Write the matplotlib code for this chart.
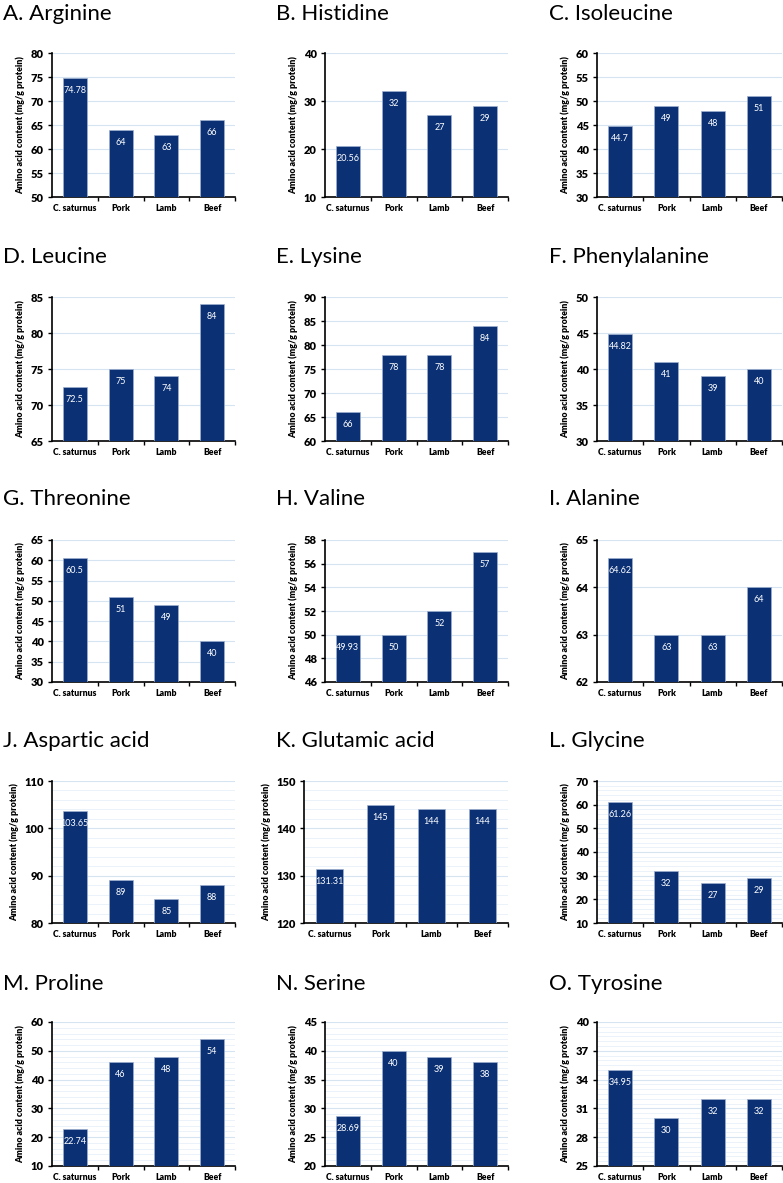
import numpy as np
import matplotlib.pyplot as plt

categories = ["C. saturnus", "Pork", "Lamb", "Beef"]

arginine = [74.78, 64, 63, 66]
histidine = [20.56, 32, 27, 29]
isoleucine = [44.7, 49, 48, 51]
leucine = [72.5, 75, 74, 84]
lysine = [66, 78, 78, 84]
phenylalanine = [44.82, 41, 39, 40]
threonine = [60.5, 51, 49, 40]
valine = [49.93, 50, 52, 57]
alanine = [64.62, 63, 63, 64]
aspartic = [103.65, 89, 85, 88]
glutamic = [131.31, 145, 144, 144]
glycine = [61.26, 32, 27, 29]
proline = [22.74, 46, 48, 54]
serine = [28.69, 40, 39, 38]
tyrosine = [34.95, 30, 32, 32]

titles = ["A. Arginine", "B. Histidine", "C. Isoleucine",
          "D. Leucine", "E. Lysine", "F. Phenylalanine",
          "G. Threonine", "H. Valine", "I. Alanine",
          "J. Aspartic acid", "K. Glutamic acid", "L. Glycine",
          "M. Proline", "N. Serine", "O. Tyrosine"]
series = [arginine, histidine, isoleucine, leucine, lysine, phenylalanine,
          threonine, valine, alanine, aspartic, glutamic, glycine,
          proline, serine, tyrosine]
# (ymin, ymax, major step)
y_axes = [(50, 80, 5), (10, 40, 10), (30, 60, 5),
          (65, 85, 5), (60, 90, 5), (30, 50, 5),
          (30, 65, 5), (46, 58, 2), (62, 65, 1),
          (80, 110, 10), (120, 150, 10), (10, 70, 10),
          (10, 60, 10), (20, 45, 5), (25, 40, 3)]
minor_steps = [None] * 9 + [2, 2, 2, 2, 1, 0.5]

plt.rcParams['font.family'] = ['Lato', 'DejaVu Sans']

W, H = 783, 1183
fig = plt.figure(figsize=(W / 100, H / 100), dpi=100)

bar_color = '#0b3174'
grid_major = '#d6e3f1'
grid_minor = '#e9f0f8'

rows = [(53, 197), (297, 441), (540, 682), (781, 923), (1022, 1166)]
cols = [(52, 235), (325, 508), (597, 782)]
title_x = [3, 276, 549]
title_y = [20, 263, 505, 747, 990]

for i, vals in enumerate(series):
    r, c = divmod(i, 3)
    top, bot = rows[r]
    left, right = cols[c]
    if i == 10:
        left = 304
    ax = fig.add_axes([left / W, 1 - bot / H, (right - left) / W, (bot - top) / H])
    x = range(len(categories))
    ax.bar(x, vals, width=0.52, color=bar_color, edgecolor='#9fb0d0', linewidth=0.5, zorder=3)
    for xi, v in zip(x, vals):
        ax.annotate(f"{v:g}", (xi, v), xytext=(0, -9), textcoords='offset points',
                    ha='center', va='center', color='white', fontsize=6.5, zorder=4)
    ymin, ymax, step = y_axes[i]
    ax.set_ylim(ymin, ymax)
    ax.set_xlim(-0.5, 3.5)
    ax.set_yticks(np.arange(ymin, ymax + 0.01, step))
    ax.yaxis.grid(True, which='major', color=grid_major, linewidth=0.8, zorder=0)
    if minor_steps[i]:
        ax.set_yticks(np.arange(ymin, ymax + 0.01, minor_steps[i]), minor=True)
        ax.yaxis.grid(True, which='minor', color=grid_minor, linewidth=0.6, zorder=0)
        ax.tick_params(axis='y', which='minor', length=0)
    ax.set_axisbelow(True)
    ax.set_xticks([0.5, 1.5, 2.5, 3.5])
    ax.set_xticklabels([])
    ax.set_xticks(list(x), minor=True)
    ax.set_xticklabels(categories, minor=True, fontsize=6.2, fontweight='heavy')
    ax.tick_params(axis='x', which='minor', length=0, pad=5)
    ax.tick_params(axis='x', which='major', length=3, width=1, direction='out')
    ax.tick_params(axis='y', which='major', length=3, width=1, labelsize=8, pad=3)
    for lab in ax.get_yticklabels():
        lab.set_fontweight('heavy')
    for s in ['top', 'right']:
        ax.spines[s].set_visible(False)
    for s in ['left', 'bottom']:
        ax.spines[s].set_linewidth(1.2)
    ax.set_ylabel("Amino acid content (mg/g protein)", fontsize=6.4, fontweight='heavy', labelpad=4)
    fig.text(title_x[c] / W, 1 - title_y[r] / H, titles[i], fontsize=16, va='baseline', ha='left')

fig.savefig('out.png', dpi=100)
